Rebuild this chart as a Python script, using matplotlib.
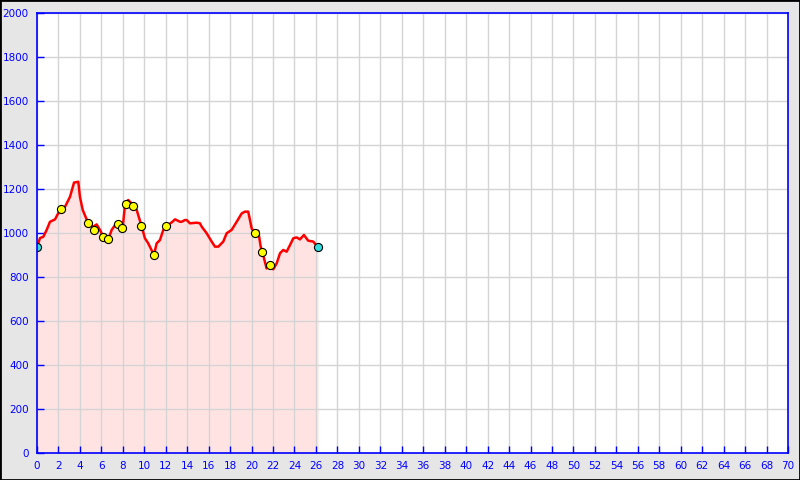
import matplotlib
matplotlib.use("Agg")
import matplotlib.pyplot as plt
from matplotlib.patches import Rectangle

# Elevation profile (distance, elevation)
profile_km = [0.0, 0.28, 0.59, 0.9, 1.21, 1.68, 2.14, 2.61, 3.08, 3.45, 3.85, 4.0,
              4.26, 4.78, 5.25, 5.56, 5.87, 6.18, 6.65, 6.96, 7.27, 7.58, 7.98, 8.2,
              8.5, 8.98, 9.29, 9.76, 10.06, 10.37, 10.9, 11.15, 11.46, 11.77, 12.08,
              12.55, 12.86, 13.0, 13.33, 13.48, 13.79, 13.95, 14.26, 14.88, 15.19,
              15.35, 15.81, 16.28, 16.59, 16.9, 17.36, 17.68, 18.14, 18.61, 19.08,
              19.38, 19.69, 20.01, 20.32, 20.62, 20.85, 21.03, 21.4, 21.71, 22.02,
              22.34, 22.65, 22.95, 23.27, 23.58, 23.89, 24.2, 24.51, 24.88, 25.28,
              25.75, 26.2]
profile_ele = [936, 977, 983, 1014, 1051, 1062, 1105, 1119, 1165, 1229, 1233, 1165,
               1105, 1044, 1029, 1039, 1014, 983, 971, 1014, 1036, 1044, 1021, 1127,
               1150, 1127, 1105, 1029, 976, 953, 900, 953, 968, 1014, 1032,
               1048, 1062, 1059, 1051, 1051, 1059, 1059, 1044, 1047, 1044,
               1029, 999, 961, 938, 938, 961, 999, 1014, 1051, 1089,
               1097, 1097, 1021, 995, 1010, 938, 910, 839, 855, 835,
               862, 908, 923, 915, 945, 976, 980, 971, 991, 965,
               961, 935]

# Waypoints
marker_km = [2.24, 4.75, 5.3, 6.15, 6.6, 7.55, 7.9, 8.3, 8.95, 9.7, 10.9, 12.0,
             20.3, 20.97, 21.7]
marker_ele = [1109, 1045, 1014, 982, 973, 1041, 1023, 1132, 1123, 1032, 900, 1032,
              1000, 914, 855]

# Start / finish
end_km = [0.0, 26.2]
end_ele = [936, 935]

x_ticks = list(range(0, 71, 2))
y_ticks = list(range(0, 2001, 200))

fig = plt.figure(figsize=(8, 4.8), dpi=100, facecolor="#e6e6e6")
ax = fig.add_axes([37 / 800, 27 / 480, 751 / 800, 440 / 480])
ax.set_facecolor("white")

ax.fill_between(profile_km, profile_ele, 0, color="#ff0000", alpha=0.11,
                linewidth=0, zorder=1)
ax.plot(profile_km, profile_ele, color="#ff0000", linewidth=1.8, zorder=3)
ax.scatter(marker_km, marker_ele, s=34, c="#ffff00", edgecolors="black",
           linewidths=0.8, zorder=4)
ax.scatter(end_km, end_ele, s=34, c="#33dddd", edgecolors="black",
           linewidths=0.8, zorder=4)

ax.set_xlim(0, 70)
ax.set_ylim(0, 2000)
ax.set_xticks(x_ticks)
ax.set_yticks(y_ticks)
ax.grid(True, color="#d4d4d4", linewidth=1, zorder=2)
ax.set_axisbelow(False)
for line in ax.get_xgridlines() + ax.get_ygridlines():
    line.set_zorder(2)

ax.tick_params(direction="in", length=5, width=1, color="#0000ff",
               labelcolor="#0000ff", labelsize=7.5, pad=6)
for side in ax.spines.values():
    side.set_color("#0000ff")
    side.set_linewidth(1.2)
    side.set_zorder(5)

# Outer black frame
fig.patches.append(Rectangle((0, 0), 1, 1, transform=fig.transFigure,
                             fill=False, edgecolor="black", linewidth=2))

fig.savefig("out.png", dpi=100, facecolor=fig.get_facecolor())
